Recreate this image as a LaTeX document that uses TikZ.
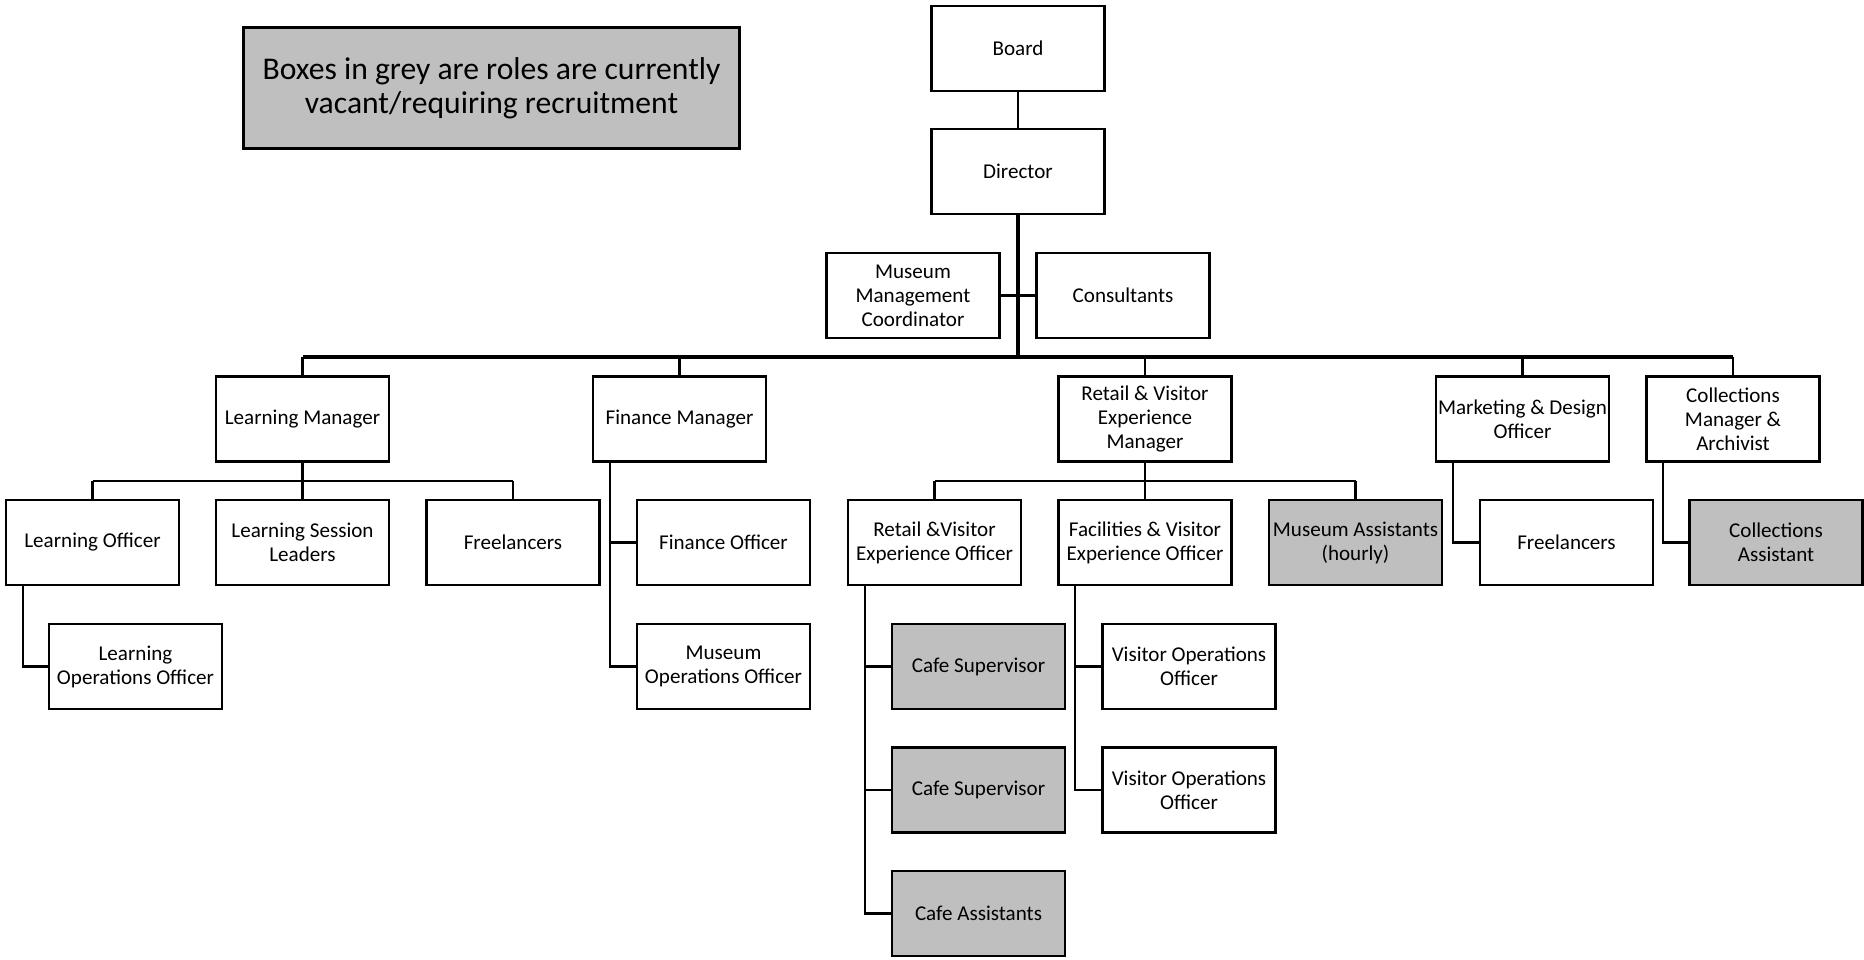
\documentclass[tikz,border=0pt]{standalone}
\usepackage{fontspec}
\setmainfont{Carlito}
\definecolor{vacgrey}{RGB}{191,191,191}
\begin{document}
\begin{tikzpicture}[x=0.02cm, y=-0.02cm,
  every node/.style={font=\fontsize{12}{13.6}\selectfont, align=center},
  role/.style={draw, line width=1.4pt, minimum width=3.46cm, minimum height=1.7cm, inner sep=1pt},
  vacbox/.style={role, fill=vacgrey},
  link/.style={line width=1.3pt},
  spine/.style={line width=2.1pt}]
\useasboundingbox (0,0) rectangle (1864,960);
\node[draw, line width=1.4pt, fill=vacgrey, minimum width=9.92cm, minimum height=2.42cm,
  font=\fontsize{18}{19.6}\selectfont] (key) at (491.5,88) {Boxes in grey are roles are currently\\vacant/requiring recruitment};
\node[role] (board) at (1018,48.5) {Board};
\node[role] (director) at (1018,171.5) {Director};
\node[role] (mmc) at (913,295.5) {Museum\\Management\\Coordinator};
\node[role] (consult) at (1123,295.5) {Consultants};
\node[role] (lm) at (302.5,419) {Learning Manager};
\node[role] (fm) at (679.5,419) {Finance Manager};
\node[role] (rvem) at (1145,419) {Retail \& Visitor\\Experience\\Manager};
\node[role] (mdo) at (1522.5,419) {Marketing \& Design\\Officer};
\node[role] (cma) at (1733,419) {Collections\\Manager \&\\Archivist};
\node[role] (lo) at (92.5,542.5) {Learning Officer};
\node[role] (lsl) at (302.5,542.5) {Learning Session\\Leaders};
\node[role] (free1) at (513,542.5) {Freelancers};
\node[role] (fo) at (723.5,542.5) {Finance Officer};
\node[role] (rveo) at (934.5,542.5) {Retail \&Visitor\\Experience Officer};
\node[role] (fveo) at (1145,542.5) {Facilities \& Visitor\\Experience Officer};
\node[vacbox] (ma) at (1355.5,542.5) {Museum Assistants\\(hourly)};
\node[role] (free2) at (1566.5,542.5) {Freelancers};
\node[vacbox] (ca) at (1776,542.5) {Collections\\Assistant};
\node[role] (loo) at (135.5,666.5) {Learning\\Operations Officer};
\node[role] (moo) at (723.5,666.5) {Museum\\Operations Officer};
\node[vacbox] (cs1) at (978.5,666.5) {Cafe Supervisor};
\node[role] (voo1) at (1189,666.5) {Visitor Operations\\Officer};
\node[vacbox] (cs2) at (978.5,790) {Cafe Supervisor};
\node[role] (voo2) at (1189,790) {Visitor Operations\\Officer};
\node[vacbox] (cafa) at (978.5,913.5) {Cafe Assistants};
\coordinate (hub) at (1018,357);
\coordinate (lmbus) at (302.5,481);
\coordinate (rvbus) at (1145,481);
\draw[link] (board) -- (director);
\draw[spine] (director) -- (hub);
\draw[link] (mmc) -- (consult);
\draw[spine] (lm.north |- hub) -- (cma.north |- hub);
\foreach \n in {lm,fm,rvem,mdo,cma}
  \draw[link] (\n.north |- hub) -- (\n.north);
\draw[link] (lm) -- (lmbus);
\draw[link] (lo.north |- lmbus) -- (free1.north |- lmbus);
\foreach \n in {lo,lsl,free1}
  \draw[link] (\n.north |- lmbus) -- (\n.north);
\draw[link] (rvem) -- (rvbus);
\draw[link] (rveo.north |- rvbus) -- (ma.north |- rvbus);
\foreach \n in {rveo,fveo,ma}
  \draw[link] (\n.north |- rvbus) -- (\n.north);
\foreach \p/\c in {lo/loo,fm/fo,fm/moo,rveo/cs1,rveo/cs2,rveo/cafa,fveo/voo1,fveo/voo2,mdo/free2,cma/ca}
  \draw[link] ([xshift=0.36cm]\p.south west) |- (\c.west);
\end{tikzpicture}
\end{document}
